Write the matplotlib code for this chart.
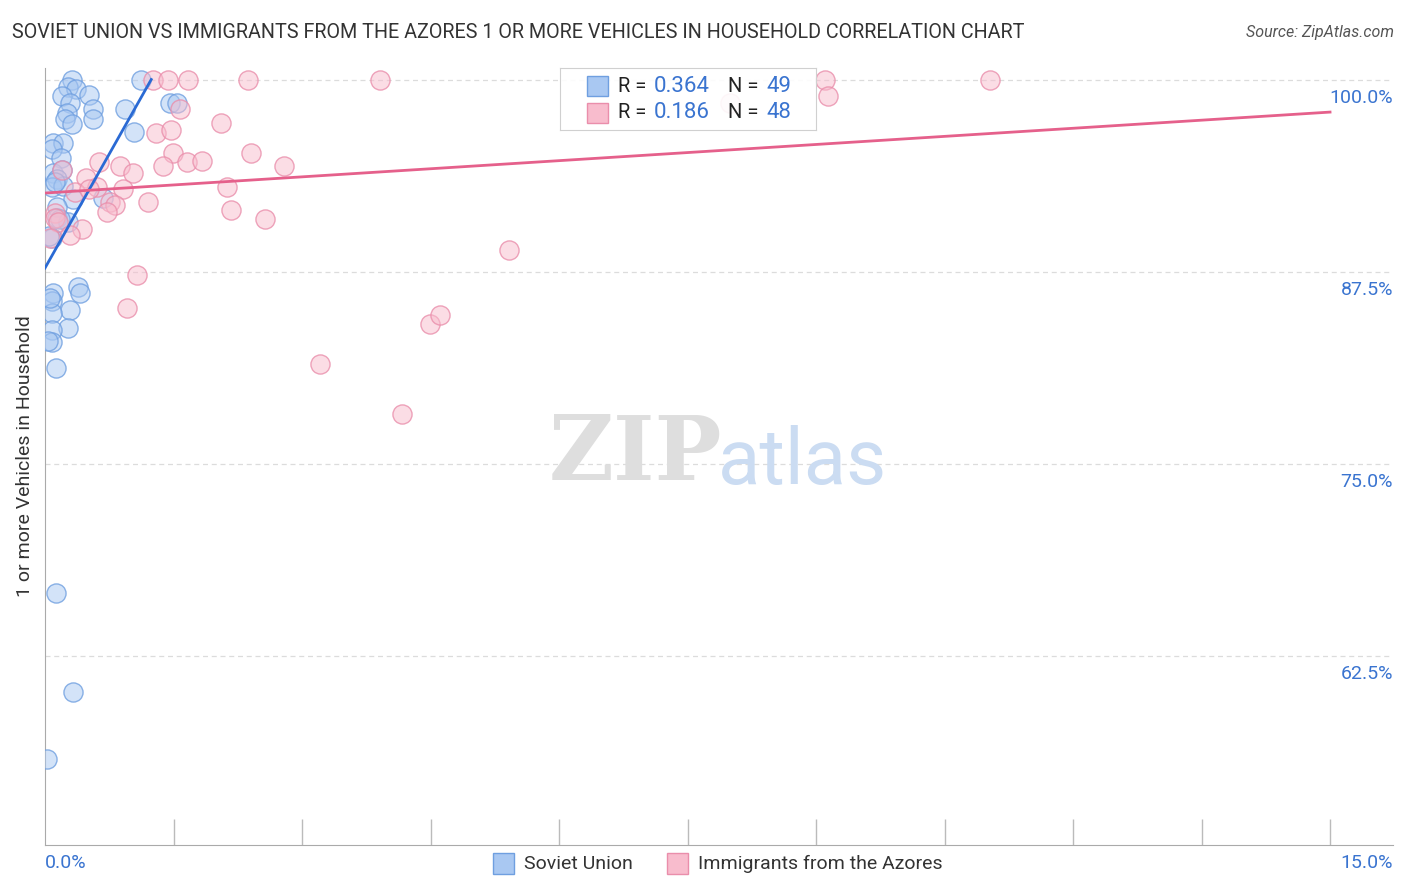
import numpy as np
import matplotlib
matplotlib.use("Agg")
from matplotlib import pyplot as plt
from matplotlib.colors import to_rgba

plt.rcParams['font.family'] = ['Roboto', 'DejaVu Sans']

## dados (x em %, y em %)

# Soviet Union
sov_x = [0.32, 1.12, 0.27, 0.36, 0.20, 0.51, 0.29, 0.56, 0.26, 0.23, 0.32, 0.56,
         0.93, 1.46, 1.54, 1.04, 0.09, 0.21, 0.08, 0.19, 0.09, 0.20, 0.14, 0.08,
         0.21, 0.33, 0.68, 0.14, 0.14, 0.27, 0.08, 0.39, 0.41, 0.09, 0.08, 0.29,
         0.08, 0.27, 0.08, 0.08, 0.13, 0.13, 0.33, 0.02, 0.06, 0.12, 0.05, 0.18, 0.04]
sov_y = [99.97, 100.0, 99.5, 99.4, 98.9, 99.0, 98.5, 98.1, 97.8, 97.4, 97.1, 97.4,
         98.1, 98.5, 98.5, 96.6, 95.9, 95.9, 95.5, 94.9, 93.9, 94.1, 93.5, 93.0,
         93.1, 92.2, 92.3, 91.7, 91.0, 90.7, 89.7, 86.5, 86.1, 86.1, 85.6, 85.0,
         84.8, 83.8, 83.7, 82.9, 81.2, 66.6, 60.1, 55.8, 85.8, 93.3, 89.8, 90.9, 83.0]

# Immigrants from the Azores
azo_x = [1.26, 1.44, 1.67, 2.37, 3.91, 9.10, 11.03, 9.14, 8.00, 1.58, 2.05, 1.30,
         1.47, 1.49, 1.38, 1.66, 1.83, 2.40, 2.79, 0.63, 0.88, 1.03, 0.20, 0.48,
         0.61, 0.91, 2.12, 0.35, 0.51, 0.76, 0.82, 0.72, 1.20, 2.17, 2.57, 0.12,
         0.12, 0.15, 0.43, 0.29, 0.06, 1.07, 0.96, 5.42, 4.49, 4.61, 3.21, 4.17]
azo_y = [100.0, 100.0, 100.0, 100.0, 100.0, 100.0, 100.0, 98.9, 98.5, 98.1, 97.2, 96.5,
         96.7, 95.2, 94.4, 94.6, 94.7, 95.2, 94.4, 94.6, 94.4, 93.9, 94.1, 93.6,
         93.0, 92.9, 93.0, 92.7, 92.9, 92.0, 91.8, 91.4, 92.0, 91.5, 90.9, 91.3,
         91.0, 90.7, 90.3, 89.9, 89.7, 87.3, 85.1, 88.9, 84.1, 84.7, 81.5, 78.2]

# linhas de tendencia (extremos)
sov_trend_x = [0.0, 1.24]
sov_trend_y = [87.73, 100.0]
azo_trend_x = [0.0, 15.0]
azo_trend_y = [92.61, 97.88]

yticks = [100.0, 87.5, 75.0, 62.5]
xticks = [1.5 * i for i in range(11)]

## cores
azul_fill = '#a9c8f2'
azul_borda = '#6f9fe0'
azul_linha = '#2a6ad4'
rosa_fill = '#f8bccd'
rosa_borda = '#ea8eab'
rosa_linha = '#e5608b'
azul_texto = '#3a74d0'

## figura
fig = plt.figure(figsize=(14.06, 8.92), dpi=100)
ax = fig.add_axes([45/1406, 47/892, (1393-45)/1406, (845-68)/892])
ax.set_xlim(0, 15.735)
ax.set_ylim(50.17, 100.75)

# grid
for yt in yticks:
    ax.axhline(yt, color='#dcdcdc', linestyle=(0, (4, 3)), linewidth=0.9, zorder=0)

# pontos
ax.scatter(sov_x, sov_y, s=190, facecolor=to_rgba(azul_fill, 0.5), edgecolor=to_rgba(azul_borda, 0.8),
           linewidth=1.0, zorder=3)
ax.scatter(azo_x, azo_y, s=190, facecolor=to_rgba(rosa_fill, 0.5), edgecolor=to_rgba(rosa_borda, 0.8),
           linewidth=1.0, zorder=3)

# tendencias
ax.plot(sov_trend_x, sov_trend_y, color=azul_linha, linewidth=2, zorder=4)
ax.plot(azo_trend_x, azo_trend_y, color=rosa_linha, linewidth=2, zorder=4)

# eixos
for s in ['top', 'right']:
    ax.spines[s].set_visible(False)
ax.spines['left'].set_color('#aaaaaa')
ax.spines['bottom'].set_color('#aaaaaa')
ax.set_yticks([])
ax.set_xticks(xticks[1:])
ax.set_xticklabels([])
ax.tick_params(axis='x', direction='in', length=19, color='#bbbbbb', width=1)

# rotulos y a direita (abaixo das linhas de grade)
for yt in yticks:
    ax.annotate(f"{yt:.1f}%", xy=(1.0, yt), xycoords=('axes fraction', 'data'),
                xytext=(0, -13), textcoords='offset points', ha='right', va='center',
                fontsize=14, color=azul_texto)

# rotulos x
fig.text(45/1406, 1 - 863/892, "0.0%", ha='left', va='center', fontsize=14, color=azul_texto)
fig.text(1393/1406, 1 - 863/892, "15.0%", ha='right', va='center', fontsize=14, color=azul_texto)

ax.set_ylabel("1 or more Vehicles in Household", fontsize=14, color='#333333', labelpad=8)

# titulo e fonte
fig.text(12/1406, 1 - 33/892, "SOVIET UNION VS IMMIGRANTS FROM THE AZORES 1 OR MORE VEHICLES IN HOUSEHOLD CORRELATION CHART",
         ha='left', va='center', fontsize=14.2, color='#333333')
fig.text(1394/1406, 1 - 33/892, "Source: ZipAtlas.com", ha='right', va='center', fontsize=11.5, color='#555555', style='italic')

# marca d'agua
fig.text(635/1406, 1 - 455/892, "ZIP", ha='center', va='center', fontsize=64, color='#dedede',
         family='DejaVu Serif', fontweight='bold')
fig.text(802/1406, 1 - 462/892, "atlas", ha='center', va='center', fontsize=56, color='#cbdcf2')

# legenda superior
leg_ax = fig.add_axes([560/1406, 1 - 130/892, 256/1406, 62/892])
leg_ax.set_xlim(0, 256)
leg_ax.set_ylim(62, 0)
leg_ax.set_xticks([])
leg_ax.set_yticks([])
for s in leg_ax.spines.values():
    s.set_color('#d0d0d0')
leg_ax.patch.set_alpha(0.9)
linhas_leg = [(18, azul_fill, azul_borda, "0.364", "49"), (45, rosa_fill, rosa_borda, "0.186", "48")]
for yy, fc, ec, r, n in linhas_leg:
    leg_ax.add_patch(plt.Rectangle((27, yy - 10), 21, 20, facecolor=fc, edgecolor=ec, linewidth=1))
    leg_ax.text(58, yy, "R = ", ha='left', va='center', fontsize=14.5, color='#222222')
    leg_ax.text(150, yy, r, ha='right', va='center', fontsize=16, color=azul_texto)
    leg_ax.text(168, yy, "N = ", ha='left', va='center', fontsize=14.5, color='#222222')
    leg_ax.text(206, yy, n, ha='left', va='center', fontsize=16, color=azul_texto)

# legenda inferior
for xx, fc, ec, lab in [(493, azul_fill, azul_borda, "Soviet Union"), (667, rosa_fill, rosa_borda, "Immigrants from the Azores")]:
    fig.patches.append(plt.Rectangle((xx/1406, 1 - 874/892), 21/1406, 21/892, facecolor=fc, edgecolor=ec,
                                     linewidth=1, transform=fig.transFigure, figure=fig))
    fig.text((xx + 31)/1406, 1 - 864/892, lab, ha='left', va='center', fontsize=14, color='#333333')

plt.savefig("out.png", dpi=100)
